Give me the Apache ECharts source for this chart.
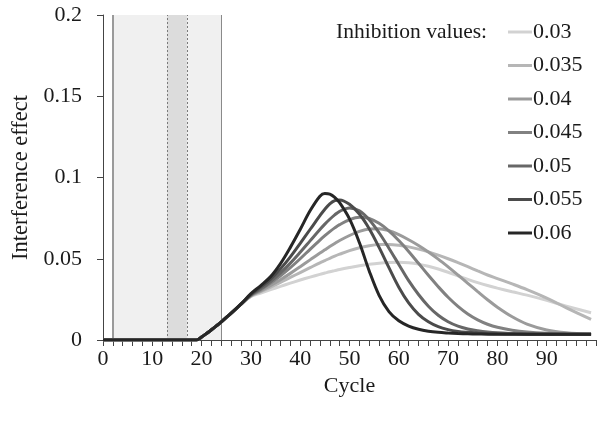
<!DOCTYPE html>
<html>
<head>
<meta charset="utf-8">
<script src="https://cdn.jsdelivr.net/npm/echarts@6/dist/echarts.min.js"></script>
<style>html,body{margin:0;padding:0;background:#fff}#c{width:601px;height:432px}</style>
</head>
<body>
<div id="c"></div>
<script>
var cycles = [0,19,20,21,22,23,24,26,28,30,32,34,36,38,40,42,44,45,46,47,48,50,52,54,56,58,60,62,64,66,68,70,72,74,76,78,80,83,86,90,94,99];
var inh030 = [0,0,0.0018,0.004,0.0063,0.0087,0.0112,0.0164,0.0219,0.0268,0.0289,0.031,0.033,0.035,0.0369,0.0387,0.0404,0.0412,0.042,0.0427,0.0434,0.0446,0.0457,0.0466,0.0473,0.0477,0.0478,0.0475,0.0467,0.0454,0.0437,0.0417,0.0395,0.0373,0.0353,0.0335,0.0319,0.0297,0.0276,0.0244,0.0208,0.0168];
var inh035 = [0,0,0.0018,0.004,0.0063,0.0087,0.0112,0.0164,0.022,0.027,0.0297,0.0325,0.0354,0.0385,0.0415,0.0445,0.0475,0.0489,0.0503,0.0516,0.0528,0.055,0.0568,0.058,0.0587,0.0588,0.0583,0.0573,0.0559,0.0542,0.0522,0.05,0.0476,0.0451,0.0425,0.0400,0.0378,0.0345,0.031,0.0258,0.0198,0.0127];
var inh040 = [0,0,0.0018,0.004,0.0063,0.0087,0.0112,0.0164,0.022,0.0272,0.0302,0.0335,0.0371,0.041,0.0451,0.0493,0.0535,0.0555,0.0575,0.0594,0.0612,0.0643,0.0668,0.0683,0.0685,0.0672,0.0648,0.0617,0.0582,0.0542,0.0498,0.045,0.04,0.0349,0.0298,0.0248,0.0202,0.0143,0.0098,0.0062,0.0045,0.0037];
var inh045 = [0,0,0.0018,0.004,0.0063,0.0087,0.0112,0.0165,0.022,0.0275,0.031,0.035,0.0395,0.0445,0.05,0.0558,0.0615,0.0642,0.0667,0.069,0.071,0.074,0.0755,0.0748,0.0718,0.0672,0.0612,0.0545,0.0472,0.0398,0.0328,0.0263,0.0207,0.016,0.0124,0.0097,0.0078,0.006,0.0049,0.0041,0.0037,0.0035];
var inh050 = [0,0,0.0018,0.004,0.0063,0.0087,0.0112,0.0165,0.0221,0.0278,0.0315,0.036,0.0413,0.0473,0.054,0.061,0.068,0.0713,0.0743,0.077,0.0792,0.0813,0.0795,0.074,0.066,0.0565,0.0465,0.0365,0.028,0.0208,0.0152,0.0112,0.0085,0.0068,0.0057,0.0049,0.0044,0.004,0.0037,0.0036,0.0035,0.0035];
var inh055 = [0,0,0.0018,0.004,0.0063,0.0087,0.0112,0.0165,0.0221,0.028,0.0325,0.0375,0.0438,0.0512,0.0595,0.068,0.0765,0.0805,0.0838,0.0858,0.0862,0.0835,0.0775,0.0685,0.057,0.0445,0.0325,0.0228,0.0158,0.0112,0.0082,0.0064,0.0053,0.0047,0.0043,0.004,0.0038,0.0037,0.0036,0.0035,0.0035,0.0035];
var inh060 = [0,0,0.0018,0.004,0.0063,0.0087,0.0112,0.0165,0.0222,0.0285,0.0335,0.039,0.047,0.057,0.068,0.0795,0.0885,0.0902,0.0898,0.0878,0.0845,0.0745,0.060,0.0425,0.0275,0.0175,0.0118,0.0086,0.0066,0.0054,0.0047,0.0043,0.004,0.0038,0.0037,0.0036,0.0036,0.0035,0.0035,0.0035,0.0035,0.0035];
var seriesNames = ['0.03','0.035','0.04','0.045','0.05','0.055','0.06'];
var seriesValues = [inh030, inh035, inh040, inh045, inh050, inh055, inh060];
var seriesColors = ['#d2d2d2','#b6b6b6','#9b9b9b','#818181','#676767','#4b4b4b','#262626'];
var xTicks = [0,10,20,30,40,50,60,70,80,90];
var yTicks = [0,0.05,0.1,0.15,0.2];
var lightBand = [2, 24];
var darkBand = [13, 17];

var FONT = "'Liberation Serif','Times New Roman',serif";
var chart = echarts.init(document.getElementById('c'), null, {renderer:'canvas'});

function pairs(vals){ return cycles.map(function(c,i){ return [c, vals[i]]; }); }

var series = seriesNames.map(function(n, i){
  return {
    name: n, type: 'line', data: pairs(seriesValues[i]),
    showSymbol: false, symbol: 'none', smooth: 0.35,
    lineStyle: {color: seriesColors[i], width: 3},
    itemStyle: {color: seriesColors[i]},
    z: 3 + i, animation: false
  };
});

series.unshift({
  name: 'bands', type: 'line', data: [], silent: true, animation: false,
  markArea: {
    silent: true,
    data: [
      [{xAxis: lightBand[0], itemStyle:{color:'#f0f0f0'}}, {xAxis: lightBand[1]}],
      [{xAxis: darkBand[0], itemStyle:{color:'#dcdcdc'}}, {xAxis: darkBand[1]}]
    ]
  },
  markLine: {
    silent: true, symbol: ['none','none'], label: {show:false},
    data: [
      {xAxis: lightBand[0], lineStyle:{color:'#9a9a9a', width:2, type:'solid'}},
      {xAxis: lightBand[1], lineStyle:{color:'#8a8a8a', width:1, type:'solid'}},
      {xAxis: darkBand[0], lineStyle:{color:'#7a7a7a', width:1, type:[2,2]}},
      {xAxis: darkBand[1], lineStyle:{color:'#7a7a7a', width:1, type:[2,2]}}
    ]
  }
});

chart.setOption({
  animation: false,
  textStyle: {fontFamily: FONT},
  grid: {left: 103, right: 5, top: 15, bottom: 92, containLabel: false, outerBoundsMode: 'none'},
  xAxis: {
    type: 'value', min: 0, max: 100, interval: 10,
    name: 'Cycle', nameLocation: 'middle', nameGap: 33,
    nameTextStyle: {fontFamily: FONT, fontSize: 22, color: '#1a1a1a', verticalAlign: 'top'},
    axisLine: {show: true, onZero: false, lineStyle: {color: '#444', width: 1}},
    axisTick: {show: true, inside: false, length: 6, lineStyle: {color: '#444'}},
    minorTick: {show: true, splitNumber: 5, length: 6, lineStyle: {color: '#444'}},
    splitLine: {show: false}, minorSplitLine: {show: false},
    axisLabel: {
      margin: 8, fontFamily: FONT, fontSize: 22, color: '#1a1a1a', showMaxLabel: false,
      formatter: function(v){ return xTicks.indexOf(v) >= 0 ? String(v) : ''; }
    }
  },
  yAxis: {
    type: 'value', min: 0, max: 0.2, interval: 0.05,
    name: 'Interference effect', nameLocation: 'middle', nameGap: 68, nameRotate: 90,
    nameTextStyle: {fontFamily: FONT, fontSize: 22.5, color: '#1a1a1a'},
    axisLine: {show: true, lineStyle: {color: '#444', width: 1}},
    axisTick: {show: true, inside: false, length: 6, lineStyle: {color: '#444'}},
    splitLine: {show: false},
    axisLabel: {
      margin: 21, fontFamily: FONT, fontSize: 22, color: '#1a1a1a',
      formatter: function(v){
        for (var k = 0; k < yTicks.length; k++) { if (Math.abs(yTicks[k]-v) < 1e-9) return String(yTicks[k]); }
        return '';
      }
    }
  },
  legend: {
    show: true, orient: 'vertical', left: 508, top: 21, padding: 0,
    itemWidth: 24, itemHeight: 3, itemGap: 11.5, icon: 'rect',
    data: seriesNames,
    textStyle: {fontFamily: FONT, fontSize: 22, color: '#1a1a1a', lineHeight: 22, padding: [0,0,0,-4]}
  },
  graphic: [{
    type: 'text', left: 336, top: 21,
    style: {text: 'Inhibition values:', font: '21.5px ' + FONT, fill: '#1a1a1a'}
  }],
  series: series
});
</script>
</body>
</html>
